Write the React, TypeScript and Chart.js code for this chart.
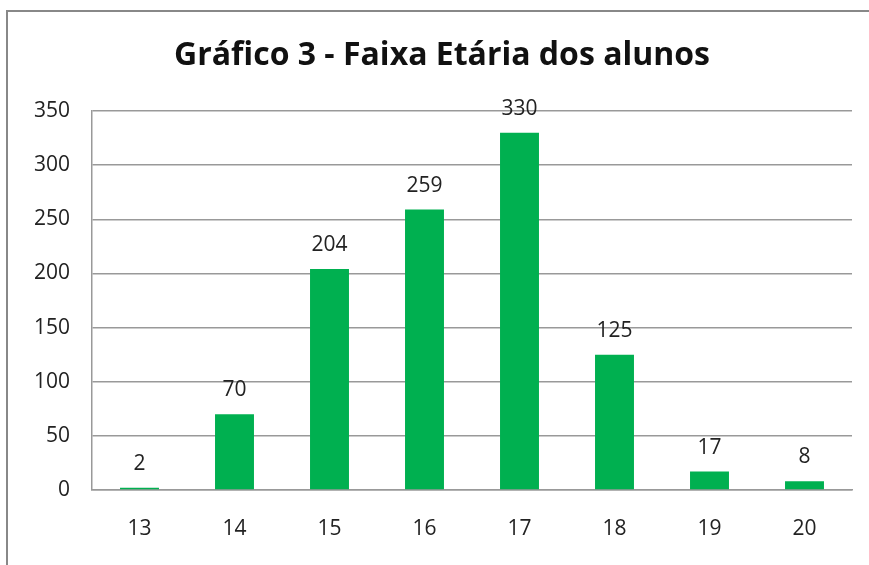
import React, { useEffect, useRef } from "react";
import { Chart, registerables } from "chart.js";

Chart.register(...registerables);

const categories = ["13", "14", "15", "16", "17", "18", "19", "20"];
const alunos = [2, 70, 204, 259, 330, 125, 17, 8];
const yTicks = [0, 50, 100, 150, 200, 250, 300, 350];
const titleText = "Gráfico 3 - Faixa Etária dos alunos";

const FONT = "'Open Sans', 'DejaVu Sans', sans-serif";

const labelPlugin = {
  id: "barLabels",
  afterDatasetsDraw(chart: any) {
    const ctx = chart.ctx;
    const meta = chart.getDatasetMeta(0);
    ctx.save();
    ctx.font = `21px ${FONT}`;
    ctx.fillStyle = "#222";
    ctx.textAlign = "center";
    ctx.textBaseline = "middle";
    meta.data.forEach((bar: any, i: number) => {
      ctx.fillText(String(alunos[i]), bar.x, bar.y - 24);
    });
    ctx.restore();
  },
};

const titlePlugin = {
  id: "customTitle",
  afterDraw(chart: any) {
    const ctx = chart.ctx;
    ctx.save();
    ctx.font = `bold 32px ${FONT}`;
    ctx.fillStyle = "#111";
    ctx.textAlign = "center";
    ctx.textBaseline = "middle";
    ctx.fillText(titleText, 442, 56);
    ctx.restore();
  },
};

export default function App() {
  const ref = useRef<HTMLCanvasElement | null>(null);
  useEffect(() => {
    document.body.style.margin = "0";
    const chart = new Chart(ref.current as HTMLCanvasElement, {
      type: "bar",
      data: {
        labels: categories,
        datasets: [
          {
            data: alunos,
            backgroundColor: "#00B050",
            barPercentage: 0.41,
            categoryPercentage: 1,
          },
        ],
      },
      options: {
        animation: false,
        responsive: false,
        maintainAspectRatio: false,
        layout: { padding: { left: 0, right: 17, top: 111, bottom: 0 } },
        plugins: { legend: { display: false }, title: { display: false }, tooltip: { enabled: false } },
        scales: {
          x: {
            grid: { display: false, drawTicks: false },
            border: { display: true, color: "#999", width: 1.5 },
            ticks: { font: { family: FONT, size: 21 }, color: "#222", padding: 26 },
            afterFit(scale: any) {
              scale.height = 75;
            },
          },
          y: {
            min: 0,
            max: 350,
            afterBuildTicks(scale: any) {
              scale.ticks = yTicks.map((v) => ({ value: v }));
            },
            grid: { color: "#999", lineWidth: 1.5, drawTicks: false },
            border: { display: true, color: "#999", width: 1.5 },
            ticks: { font: { family: FONT, size: 21 }, color: "#222", padding: 22 },
            afterFit(scale: any) {
              scale.width = 92;
            },
          },
        },
      },
      plugins: [labelPlugin, titlePlugin],
    });
    return () => chart.destroy();
  }, []);
  return (
    <div style={{ position: "relative", width: 869, height: 565, background: "#fff" }}>
      <div
        style={{
          position: "absolute",
          left: 6,
          top: 10,
          right: 0,
          bottom: 0,
          borderTop: "2px solid #888",
          borderLeft: "2px solid #888",
        }}
      />
      <canvas ref={ref} width={869} height={565} style={{ position: "absolute", left: 0, top: 0 }} />
    </div>
  );
}
